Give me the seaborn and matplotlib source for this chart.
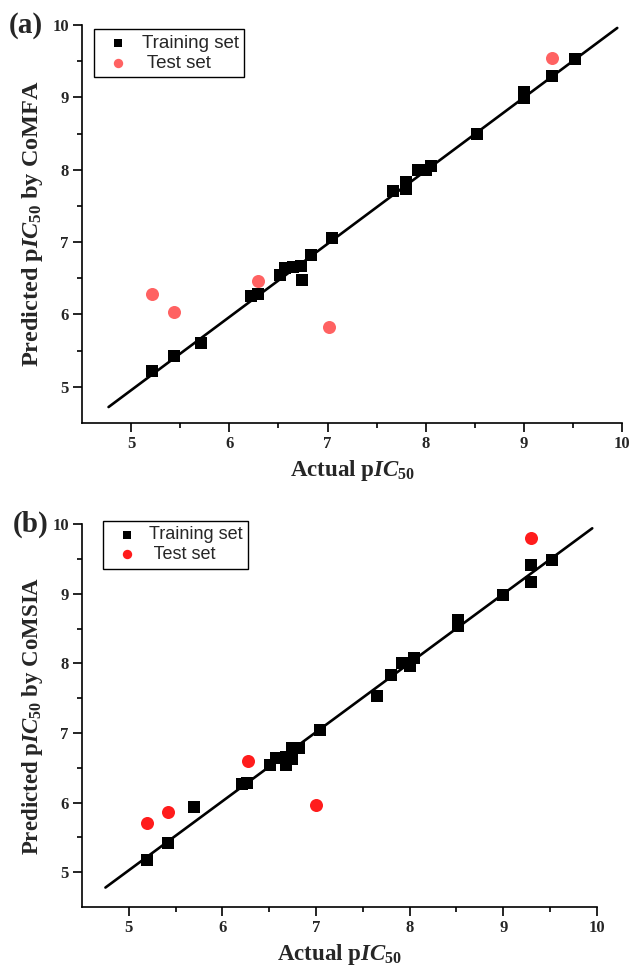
import numpy as np
import pandas as pd
import seaborn as sns
import matplotlib.pyplot as plt

# ---- panel (a): CoMFA ----
a_train_actual = [5.21, 5.44, 5.71, 6.22, 6.29, 6.52, 6.57, 6.65, 6.73, 6.74, 6.83, 7.05,
                  7.67, 7.80, 7.80, 7.92, 8.00, 8.05, 8.52, 9.00, 9.00, 9.29, 9.52]
a_train_pred = [5.22, 5.42, 5.60, 6.26, 6.28, 6.55, 6.64, 6.66, 6.67, 6.47, 6.82, 7.05,
                7.70, 7.83, 7.74, 7.99, 7.99, 8.05, 8.50, 9.07, 8.99, 9.30, 9.53]
a_test_actual = [5.21, 5.44, 6.29, 7.01, 9.29]
a_test_pred = [6.28, 6.03, 6.46, 5.82, 9.55]
a_fit_x = [4.77, 9.95]
a_fit_y = [4.72, 9.96]

# ---- panel (b): CoMSIA ----
b_train_actual = [5.19, 5.42, 5.70, 6.21, 6.26, 6.51, 6.57, 6.68, 6.68, 6.74, 6.74, 6.82,
                  7.04, 7.65, 7.80, 7.92, 8.00, 8.05, 8.52, 8.52, 9.00, 9.30, 9.30, 9.52]
b_train_pred = [5.17, 5.42, 5.94, 6.27, 6.28, 6.54, 6.64, 6.54, 6.66, 6.62, 6.79, 6.79,
                7.04, 7.53, 7.84, 8.00, 7.96, 8.07, 8.62, 8.53, 8.98, 9.41, 9.17, 9.48]
b_test_actual = [5.19, 5.42, 6.27, 7.00, 9.30]
b_test_pred = [5.70, 5.87, 6.60, 5.96, 9.80]
b_fit_x = [4.75, 9.95]
b_fit_y = [4.78, 9.94]

sns.set_style("ticks")
plt.rcParams['font.family'] = ['Liberation Serif', 'DejaVu Serif']
plt.rcParams['mathtext.fontset'] = 'custom'
plt.rcParams['mathtext.rm'] = 'Liberation Serif:bold'
plt.rcParams['mathtext.bf'] = 'Liberation Serif:bold'
plt.rcParams['mathtext.it'] = 'Liberation Serif:italic:bold'

fig = plt.figure(figsize=(6.31, 9.67), dpi=100)
ax_a = fig.add_axes([0.130, 0.5626, 0.856, 0.4115])
ax_b = fig.add_axes([0.130, 0.062, 0.816, 0.396])

# ax, tag, method, data..., test colour, square size, legend anchor, legend font, ylabel size
panels = [
    (ax_a, "(a)", "CoMFA", a_train_actual, a_train_pred, a_test_actual, a_test_pred,
     a_fit_x, a_fit_y, "#ff6262", 78, (0.022, 0.99), 13.5, 17.5),
    (ax_b, "(b)", "CoMSIA", b_train_actual, b_train_pred, b_test_actual, b_test_pred,
     b_fit_x, b_fit_y, "#ff1c1c", 64, (0.041, 1.008), 13, 16.5),
]

for (ax, tag, method, tr_x, tr_y, te_x, te_y, fx, fy, test_col, sq,
     anchor, legsize, ylsize) in panels:
    train = pd.DataFrame({"actual": tr_x, "pred": tr_y})
    test = pd.DataFrame({"actual": te_x, "pred": te_y})
    fit = pd.DataFrame({"actual": fx, "pred": fy})

    sns.lineplot(data=fit, x="actual", y="pred", ax=ax, color="black", lw=1.9, zorder=2)
    sns.scatterplot(data=train, x="actual", y="pred", ax=ax, marker="s", s=sq,
                    color="black", edgecolor="black", linewidth=0, zorder=3,
                    label="Training set")
    sns.scatterplot(data=test, x="actual", y="pred", ax=ax, marker="o", s=88,
                    color=test_col, linewidth=0, zorder=4, label=" Test set")

    ax.set_xlim(4.5, 10)
    ax.set_ylim(4.5, 10)
    ax.set_xticks([5, 6, 7, 8, 9, 10])
    ax.set_yticks([5, 6, 7, 8, 9, 10])
    ax.set_xticks(np.arange(5.5, 10, 1), minor=True)
    ax.set_yticks(np.arange(5.5, 10, 1), minor=True)
    ax.tick_params(which="major", direction="out", length=6.5, width=1.2,
                   labelsize=12, color="black", pad=3)
    ax.tick_params(which="minor", direction="out", length=3.5, width=1.2, color="black")
    for lab in ax.get_xticklabels() + ax.get_yticklabels():
        lab.set_fontweight("bold")
    sns.despine(ax=ax)
    for sp in ["left", "bottom"]:
        ax.spines[sp].set_linewidth(1.2)
        ax.spines[sp].set_color("black")

    ax.set_xlabel(r"Actual p$\it{IC}_{50}$", fontsize=16.5, fontweight="bold", labelpad=4)
    ax.set_ylabel(r"Predicted p$\it{IC}_{50}$ by " + method, fontsize=ylsize,
                  fontweight="bold", labelpad=5)
    ax.text(-0.135, 1.0, tag, transform=ax.transAxes, fontsize=21,
            fontweight="bold", va="center", ha="left")

    leg = ax.legend(loc="upper left", bbox_to_anchor=anchor, borderaxespad=0,
                    frameon=True, fancybox=False, edgecolor="black", framealpha=1,
                    prop={"family": "Liberation Sans", "size": legsize},
                    markerscale=0.72, handletextpad=0.25, borderpad=0.3,
                    labelspacing=0.15, handlelength=2.0)
    leg.get_frame().set_linewidth(1.0)

fig.savefig("out.png", dpi=100)
